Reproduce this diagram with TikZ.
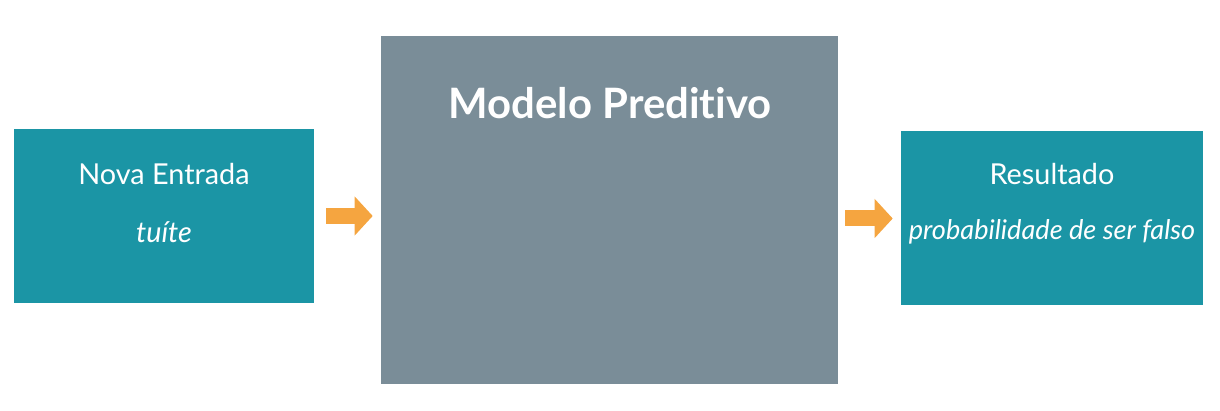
\documentclass[tikz,border=0pt]{standalone}
\usepackage{fontspec}
\setmainfont{Lato}[Ligatures=NoCommon]
\usepackage{xcolor}
\usetikzlibrary{positioning,arrows.meta}
\definecolor{tealbox}{HTML}{1B95A5}
\definecolor{modelgray}{HTML}{7A8D98}
\definecolor{flowora}{HTML}{F5A540}
\tikzset{io/.style={rectangle,fill=tealbox,minimum width=7.5cm,minimum height=4.35cm,inner sep=0pt},
         model/.style={rectangle,fill=modelgray,minimum width=11.425cm,minimum height=8.7cm,inner sep=0pt},
         lbl/.style={text=white,font=\fontsize{20.5}{24}\selectfont},
         flow/.style={draw=flowora,line width=0.4cm,line cap=butt,-{Triangle[length=4.5mm,width=9.5mm]}}}

\begin{document}
\begin{tikzpicture}
    \useasboundingbox (0,0) rectangle (30.5,10.275);
    \node[io] (entrada)at (4.1,4.875) {};
    \node[model] (modelo)at (15.2375,5.025) {};
    \node[io,minimum width=7.55cm] (resultado)at (26.3,4.8125) {};

    \node[lbl] (entradat)at (4.1,5.925) {Nova Entrada};
    \node[lbl] (entradas)at (4.1,4.475) {\itshape tuíte};
    \node[lbl,font=\bfseries\fontsize{29.8}{34}\selectfont] (modelot)at (15.25,7.7) {Modelo Preditivo};
    \node[lbl] (resultadot)at (26.3,5.925) {Resultado};
    \node[lbl,font=\itshape\fontsize{19.3}{23}\selectfont] (resultados)at (26.3,4.475) {probabilidade de ser falso};

    \draw [flow,shorten <=0.3cm,shorten >=0.2cm] (entrada.east) -- (entrada.east -| modelo.west);
    \draw [flow,shorten <=0.175cm,shorten >=0.2cm] (modelo.east |- resultado.west) -- (resultado.west);
\end{tikzpicture}
\end{document}
